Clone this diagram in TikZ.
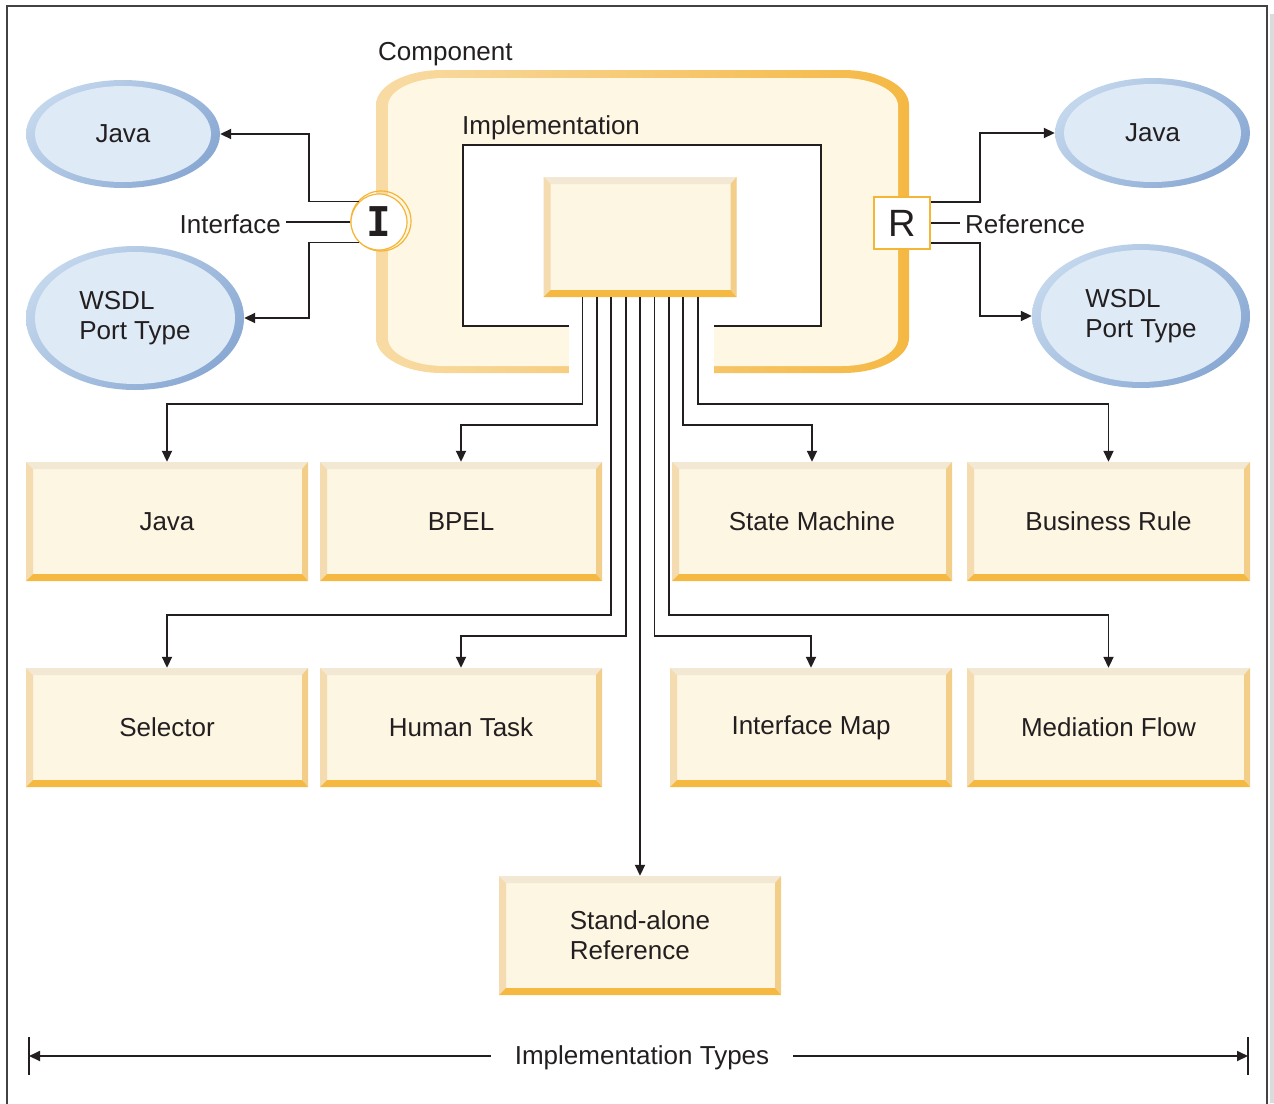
\documentclass[tikz,border=0pt]{standalone}
\usepackage{fontspec}
\setmainfont{Liberation Sans}
\newfontfamily\monofnt{DejaVu Sans Mono}
\usetikzlibrary{arrows.meta,shapes.geometric,calc}
\definecolor{txt}{HTML}{231F20}
\definecolor{boxfill}{HTML}{FDF6E3}
\definecolor{bevT}{HTML}{F3E8D4}
\definecolor{bevL}{HTML}{F4DCB0}
\definecolor{bevR}{HTML}{F3CE89}
\definecolor{bevB}{HTML}{F5B941}
\definecolor{compL}{HTML}{F8DBA4}
\definecolor{compM}{HTML}{F8D699}
\definecolor{compD}{HTML}{F5B843}
\definecolor{cream}{HTML}{FEF7E3}
\definecolor{bluL}{HTML}{C2D6EC}
\definecolor{bluD}{HTML}{8AA9D3}
\definecolor{bluF}{HTML}{DEEAF6}
\definecolor{ringC}{HTML}{F5B536}
\begin{document}
\begin{tikzpicture}[x=1pt,y=-1pt,
  font=\fontsize{26pt}{30pt}\selectfont, text=txt,
  conn/.style={draw=txt, line width=1.8pt},
  arr/.style={-{Triangle[length=11pt,width=10pt]}},
  bevbox/.style={rectangle, inner sep=0pt, minimum width=#1, minimum height=119pt,
    fill=boxfill, align=left,
    path picture={
      \fill[bevT] (path picture bounding box.north west) -- (path picture bounding box.north east)
        -- ([xshift=-6pt,yshift=-7pt]path picture bounding box.north east)
        -- ([xshift=7pt,yshift=-7pt]path picture bounding box.north west) -- cycle;
      \fill[bevL] (path picture bounding box.north west) -- (path picture bounding box.south west)
        -- ([xshift=7pt,yshift=7pt]path picture bounding box.south west)
        -- ([xshift=7pt,yshift=-7pt]path picture bounding box.north west) -- cycle;
      \fill[bevR] (path picture bounding box.north east) -- (path picture bounding box.south east)
        -- ([xshift=-6pt,yshift=7pt]path picture bounding box.south east)
        -- ([xshift=-6pt,yshift=-7pt]path picture bounding box.north east) -- cycle;
      \fill[bevB] (path picture bounding box.south west) -- (path picture bounding box.south east)
        -- ([xshift=-6pt,yshift=7pt]path picture bounding box.south east)
        -- ([xshift=7pt,yshift=7pt]path picture bounding box.south west) -- cycle;
    }},
  bevbox/.default=282pt,
  ell/.style 2 args={ellipse, inner sep=0pt, minimum width=#1, minimum height=#2, align=left,
    path picture={
      \shade[top color=bluL, bottom color=bluD, shading angle=45]
        (path picture bounding box.south west) rectangle (path picture bounding box.north east);
      \fill[bluF] let \p1=($(path picture bounding box.north east)-(path picture bounding box.center)$) in
        (path picture bounding box.center) ellipse [x radius=\x1-9pt, y radius=\y1-6pt];
    }},
]
\useasboundingbox (0,0) rectangle (1274,1103);

% frame
\fill[black!14] (1269.5,14) rectangle (1274,1103);
\draw[txt!85, line width=1.6pt] (7,1104) -- (7,6) -- (1267,6) -- (1267,1104);

% component
\shade[left color=compL, middle color=compM, right color=compD]
  (442,70) -- (843,70) .. controls (879.4,70) and (909,85.7) .. (909,105) -- (909,338)
  .. controls (909,357.3) and (879.4,373) .. (843,373) -- (442,373)
  .. controls (405.6,373) and (376,357.3) .. (376,338) -- (376,105)
  .. controls (376,85.7) and (405.6,70) .. (442,70) -- cycle;
\fill[cream]
  (444,78) -- (842,78) .. controls (872.9,78) and (898,90.5) .. (898,106) -- (898,338)
  .. controls (898,353.5) and (872.9,366) .. (842,366) -- (444,366)
  .. controls (413.1,366) and (388,353.5) .. (388,338) -- (388,106)
  .. controls (388,90.5) and (413.1,78) .. (444,78) -- cycle;
\fill[white] (569,300) rectangle (714,378);
\fill[white] (463,145) rectangle (821,326);
\draw[conn] (569,326) -- (463,326) -- (463,145) -- (821,145) -- (821,326) -- (714,326);

\node[anchor=west, inner sep=0pt] (comp) at (378,54) {Component};
\node[anchor=west, inner sep=0pt] (impll) at (462,128) {Implementation};

\node[bevbox=193pt, minimum height=120pt] (impl) at (640,237) {};

% interface and reference
\draw[ringC, line width=1.2pt] (381,221) circle[radius=30];
\node[circle, draw=ringC, line width=1.2pt, fill=white, minimum size=56pt, inner sep=0pt,
  font=\monofnt\bfseries\fontsize{41pt}{41pt}\selectfont] (I) at (379,222) {I};
\node[rectangle, draw=ringC, line width=1.5pt, fill=white, minimum width=56pt,
  minimum height=52pt, inner sep=0pt, font=\fontsize{38pt}{38pt}\selectfont] (R) at (902,223) {R};

\node[anchor=east, inner sep=5pt] (ifl) at (286,224) {Interface};
\node[anchor=west, inner sep=5pt] (refl) at (960,224) {Reference};
\draw[conn] (I.west) -- (I.west -| ifl.east);
\draw[conn] (R.east) -- (R.east -| refl.west);

% ellipses
\node[ell={194pt}{108pt}] (eJavaL) at (123,134) {Java};
\node[ell={218pt}{144pt}] (eWsdlL) at (135,318) {WSDL\\Port Type};
\node[ell={195pt}{110pt}] (eJavaR) at (1152.5,133) {Java};
\node[ell={218pt}{144pt}] (eWsdlR) at (1141,316) {WSDL\\Port Type};

\draw[conn,arr] (I.134) -- ++(-50,0) |- (eJavaL.east);
\draw[conn,arr] (I.226) -- ++(-50,0) |- (eWsdlL.east);
\draw[conn,arr] ([yshift=21pt]R.east) -- ++(49,0) |- (eJavaR.west);
\draw[conn,arr] ([yshift=-20pt]R.east) -- ++(49,0) |- (eWsdlR.west);

% implementation types
\node[bevbox] (tJava) at (167,521.5) {Java};
\node[bevbox] (tBPEL) at (461,521.5) {BPEL};
\node[bevbox=280pt] (tState) at (812,521.5) {State Machine};
\node[bevbox=283pt] (tRule) at (1108.5,521.5) {Business Rule};
\node[bevbox] (tSel) at (167,727.5) {Selector};
\node[bevbox] (tHuman) at (461,727.5) {Human Task};
\node[bevbox] (tIMap) at (811,727.5) {Interface Map};
\node[bevbox=283pt] (tMed) at (1108.5,727.5) {Mediation Flow};
\node[bevbox] (tStand) at (640,935.5) {Stand-alone\\Reference};

\draw[conn,arr] ([xshift=-57.6pt]impl.south) -- ++(0,107) -| (tJava.north);
\draw[conn,arr] ([xshift=-43.2pt]impl.south) -- ++(0,128) -| (tBPEL.north);
\draw[conn,arr] ([xshift=-28.8pt]impl.south) -- ++(0,318) -| (tSel.north);
\draw[conn,arr] ([xshift=-14.4pt]impl.south) -- ++(0,339) -| (tHuman.north);
\draw[conn,arr] (impl.south) -- (tStand.north);
\draw[conn,arr] ([xshift=14.4pt]impl.south) -- ++(0,339) -| (tIMap.north);
\draw[conn,arr] ([xshift=28.8pt]impl.south) -- ++(0,318) -| (tMed.north);
\draw[conn,arr] ([xshift=43.2pt]impl.south) -- ++(0,128) -| (tState.north);
\draw[conn,arr] ([xshift=57.6pt]impl.south) -- ++(0,107) -| (tRule.north);

% dimension line
\coordinate (dl) at (29,1056);
\coordinate (dr) at (1248,1056);
\node[inner ysep=0pt, inner xsep=24pt] (itypes) at (642,1058) {Implementation Types};
\draw[conn,arr] (itypes.west |- dl) -- (dl);
\draw[conn,arr] (itypes.east |- dr) -- (dr);
\draw[txt, line width=1.2pt] ([yshift=19pt]dl) -- ([yshift=-19pt]dl);
\draw[txt, line width=1.2pt] ([yshift=19pt]dr) -- ([yshift=-19pt]dr);
\end{tikzpicture}
\end{document}
